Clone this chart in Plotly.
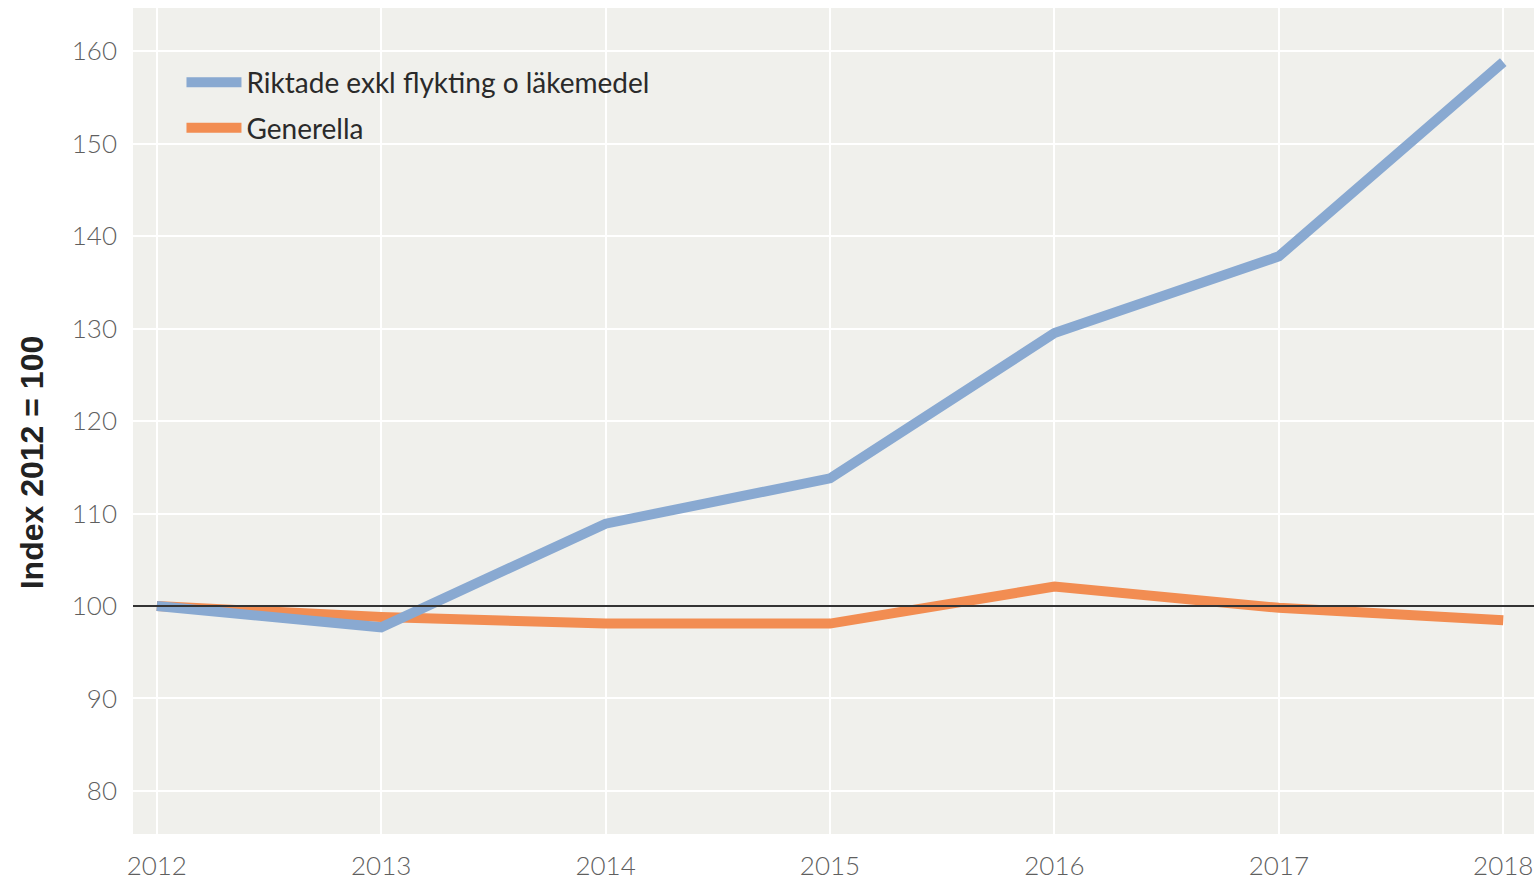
import plotly.graph_objects as go

years = [2012, 2013, 2014, 2015, 2016, 2017, 2018]
riktade = [100, 97.7, 108.9, 113.8, 129.5, 137.8, 158.8]
generella = [100, 98.8, 98.1, 98.1, 102.1, 99.8, 98.45]
y_ticks = [80, 90, 100, 110, 120, 130, 140, 150, 160]

fig = go.Figure()
fig.add_trace(go.Scatter(x=years, y=generella, mode="lines", name="Generella",
                         legendgroup="g", legendrank=2,
                         line=dict(color="#f28d52", width=10)))
fig.add_trace(go.Scatter(x=years, y=riktade, mode="lines", name="Riktade exkl flykting o läkemedel",
                         legendgroup="r", legendrank=1,
                         line=dict(color="#89a9d1", width=10)))

fig.add_hline(y=100, line=dict(color="#333333", width=2), layer="above")

fig.add_annotation(text="<b>Index 2012 = 100</b>", xref="paper", yref="paper",
                   x=-0.0721, y=0.450, xanchor="center", yanchor="middle",
                   textangle=-90, showarrow=False,
                   font=dict(size=32, color="#222222", family="Liberation Sans"))

tickfont = dict(size=26, color="#5f5f5f", family="Lato", weight=300)

fig.update_layout(
    width=1534, height=881,
    margin=dict(l=133, r=0, t=8, b=47),
    paper_bgcolor="white",
    plot_bgcolor="#f0f0ec",
    font=dict(family="Lato", color="#555555"),
    showlegend=True,
    legend=dict(x=0.0346, y=0.94, xanchor="left", yanchor="top",
                bgcolor="rgba(0,0,0,0)",
                font=dict(size=28, color="#2a2a2a", family="Lato"),
                itemwidth=55, tracegroupgap=6),
    xaxis=dict(range=[2011.894, 2018.137], tickvals=years, ticktext=[str(y) for y in years],
               showgrid=True, gridcolor="white", gridwidth=2, zeroline=False,
               tickfont=tickfont, ticks="", showline=False, ticklabelstandoff=14),
    yaxis=dict(range=[75.35, 164.65], tickvals=y_ticks,
               showgrid=True, gridcolor="white", gridwidth=2, zeroline=False,
               tickfont=tickfont, ticks="", showline=False, ticklabelstandoff=15),
)

fig.write_html("out.html", post_script="document.body.style.margin='0';",
               config={"displayModeBar": False})
